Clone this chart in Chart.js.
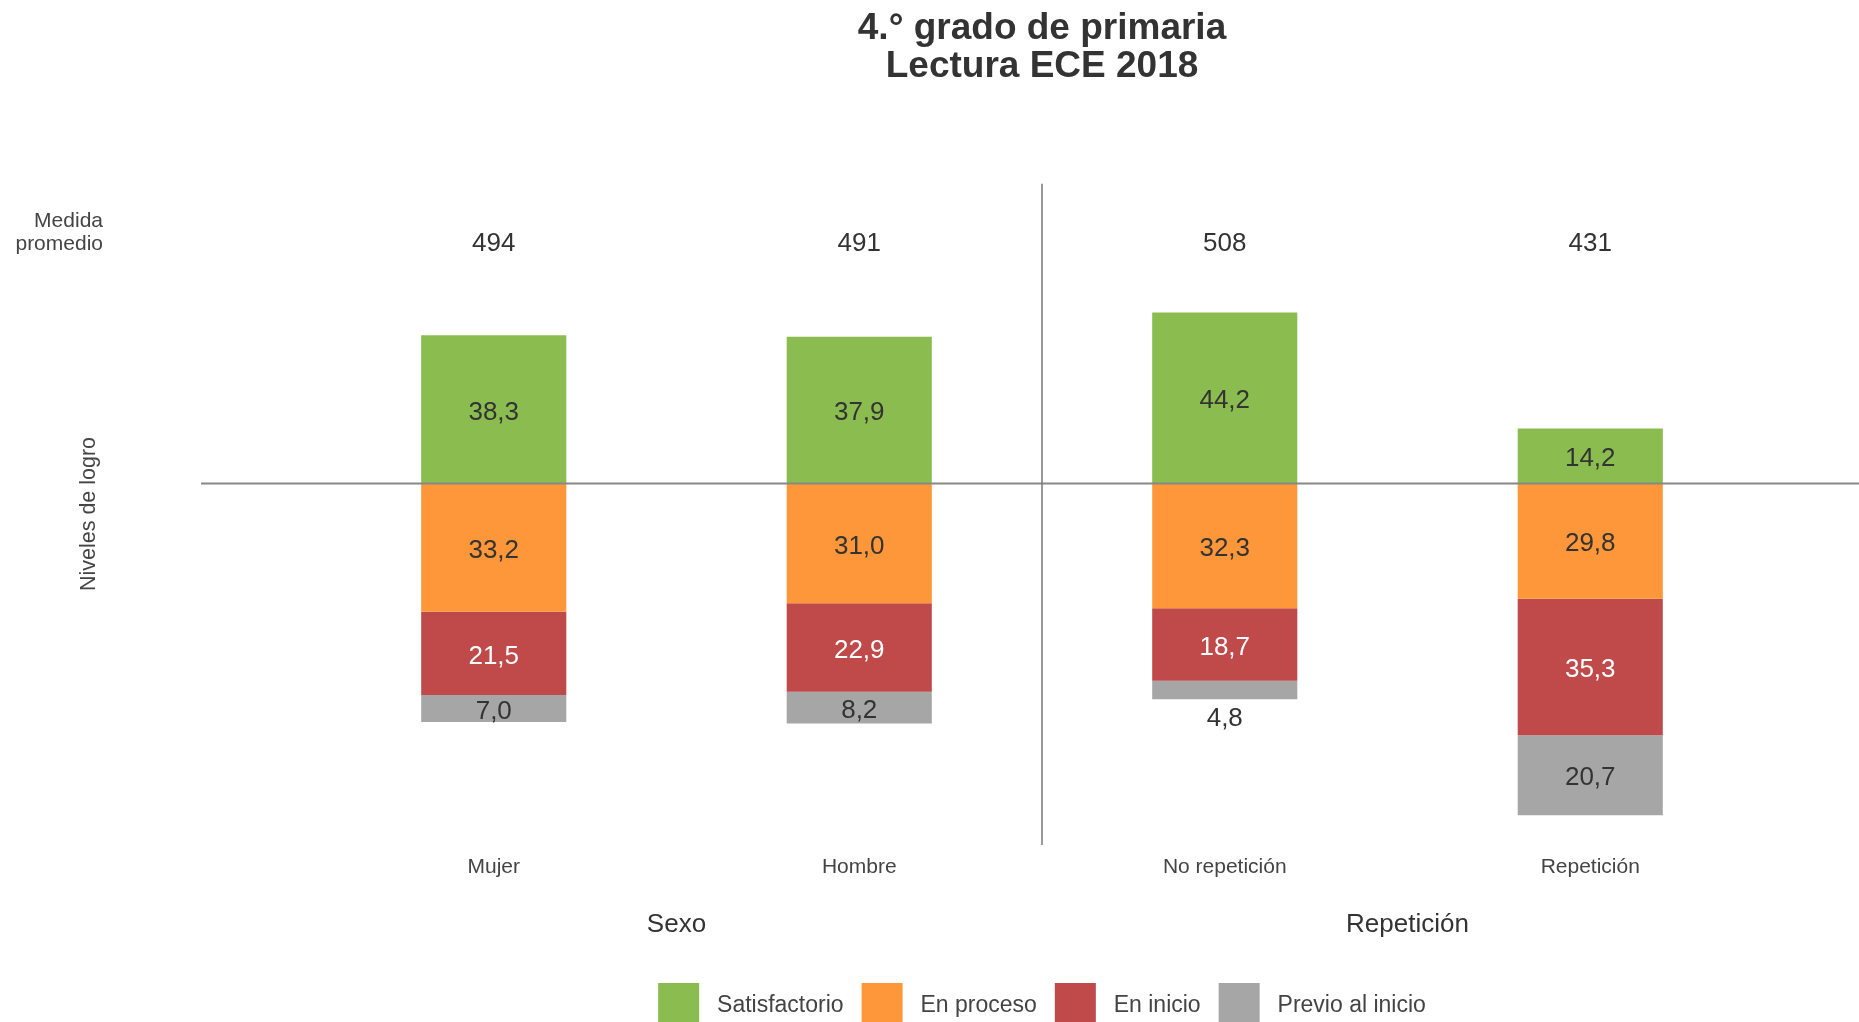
<!DOCTYPE html>
<html lang="es">
<head>
<meta charset="utf-8">
<title>4.° grado de primaria - Lectura ECE 2018</title>
<script src="https://cdn.jsdelivr.net/npm/chart.js@4.4.1/dist/chart.umd.min.js"></script>
<style>
    html, body { margin: 0; padding: 0; background: #fff; overflow: hidden; }
    #wrap { position: relative; width: 1859px; height: 1039px; }
</style>
</head>
<body>
<div id="wrap"><canvas id="eceChart"></canvas></div>
<script>
const categories = ["Mujer", "Hombre", "No repetición", "Repetición"];
const medidaPromedio = [494, 491, 508, 431];
const satisfactorio = [38.3, 37.9, 44.2, 14.2];
const enProceso = [33.2, 31.0, 32.3, 29.8];
const enInicio = [21.5, 22.9, 18.7, 35.3];
const previoAlInicio = [7.0, 8.2, 4.8, 20.7];
const groupLabels = ["Sexo", "Repetición"];
const groupMembers = [[0, 1], [2, 3]];

const FONT = "'Liberation Sans', Arial, sans-serif";

// Etiquetas, línea base, separador y textos laterales
const extrasPlugin = {
    id: "extras",
    afterDatasetsDraw(chart) {
        const { ctx, chartArea, scales: { x, y } } = chart;
        ctx.save();

        // línea base en 0
        const y0 = y.getPixelForValue(0);
        ctx.strokeStyle = "#888";
        ctx.lineWidth = 2;
        ctx.beginPath();
        ctx.moveTo(201, y0);
        ctx.lineTo(chart.width, y0);
        ctx.stroke();

        // separador entre grupos
        const xs = (x.getPixelForValue(1) + x.getPixelForValue(2)) / 2;
        ctx.strokeStyle = "#777";
        ctx.lineWidth = 1.5;
        ctx.beginPath();
        ctx.moveTo(xs, chartArea.top);
        ctx.lineTo(xs, chartArea.bottom);
        ctx.stroke();

        // valores dentro de las barras
        ctx.textAlign = "center";
        ctx.textBaseline = "middle";
        ctx.font = "26px " + FONT;
        chart.data.datasets.forEach((ds, di) => {
            const meta = chart.getDatasetMeta(di);
            meta.data.forEach((bar, i) => {
                const top = Math.min(bar.y, bar.base);
                const bottom = Math.max(bar.y, bar.base);
                let ty = (top + bottom) / 2 + 3;
                let color = ds.labelColor;
                if (bottom - top < 22) {
                    ty = bottom + 20;
                    color = "#333";
                }
                ctx.fillStyle = color;
                ctx.fillText(Math.abs(ds.data[i]).toFixed(1).replace(".", ","), bar.x, ty);
            });
        });

        // medida promedio
        ctx.fillStyle = "#333";
        ctx.font = "26px " + FONT;
        medidaPromedio.forEach((m, i) => {
            ctx.fillText(String(m), x.getPixelForValue(i), 243.5);
        });
        ctx.textAlign = "right";
        ctx.fillStyle = "#444";
        ctx.font = "21px " + FONT;
        ctx.fillText("Medida", 103, 221);
        ctx.fillText("promedio", 103, 244);

        // título del eje
        ctx.save();
        ctx.translate(89, 514);
        ctx.rotate(-Math.PI / 2);
        ctx.textAlign = "center";
        ctx.font = "21.5px " + FONT;
        ctx.fillText("Niveles de logro", 0, 0);
        ctx.restore();

        // grupos
        ctx.textAlign = "center";
        ctx.fillStyle = "#333";
        ctx.font = "26px " + FONT;
        groupLabels.forEach((g, gi) => {
            const idx = groupMembers[gi];
            const cx = (x.getPixelForValue(idx[0]) + x.getPixelForValue(idx[idx.length - 1])) / 2;
            ctx.fillText(g, cx, 924.5);
        });

        ctx.restore();
    }
};

const ctx = document.getElementById("eceChart").getContext("2d");
new Chart(ctx, {
    type: "bar",
    data: {
        labels: categories,
        datasets: [
            { label: "Satisfactorio", data: satisfactorio, backgroundColor: "#8bbc4f", borderColor: "#8bbc4f", borderWidth: 0, labelColor: "#333" },
            { label: "En proceso", data: enProceso.map(v => -v), backgroundColor: "#fe963a", borderColor: "#fe963a", borderWidth: 0, labelColor: "#333" },
            { label: "En inicio", data: enInicio.map(v => -v), backgroundColor: "#c0494a", borderColor: "#c0494a", borderWidth: 0, labelColor: "#fff" },
            { label: "Previo al inicio", data: previoAlInicio.map(v => -v), backgroundColor: "#a6a6a6", borderColor: "#a6a6a6", borderWidth: 0, labelColor: "#333" }
        ]
    },
    options: {
        responsive: true,
        maintainAspectRatio: false,
        animation: false,
        events: [],
        barPercentage: 0.397,
        categoryPercentage: 1,
        layout: { padding: { left: 311, right: 86, top: 0, bottom: 0 } },
        scales: {
            x: {
                stacked: true,
                grid: { display: false, drawTicks: false },
                border: { display: false },
                ticks: { color: "#444", font: { family: FONT, size: 21 }, padding: 10 },
                afterFit(scale) { scale.height = 120; }
            },
            y: {
                stacked: true,
                display: false,
                min: -93.5,
                max: 77.5
            }
        },
        plugins: {
            title: {
                display: true,
                text: ["4.° grado de primaria", "Lectura ECE 2018"],
                color: "#333",
                font: { family: FONT, size: 37, weight: "bold", lineHeight: 1.05 },
                padding: { top: 9, bottom: 97 }
            },
            legend: {
                position: "bottom",
                labels: {
                    boxWidth: 41,
                    boxHeight: 46,
                    padding: 18,
                    color: "#444",
                    font: { family: FONT, size: 23 },
                    generateLabels(chart) {
                        const items = Chart.defaults.plugins.legend.labels.generateLabels(chart);
                        items.forEach(it => { it.text = " " + it.text; });
                        return items;
                    }
                }
            },
            tooltip: { enabled: false }
        }
    },
    plugins: [extrasPlugin]
});
</script>
</body>
</html>
